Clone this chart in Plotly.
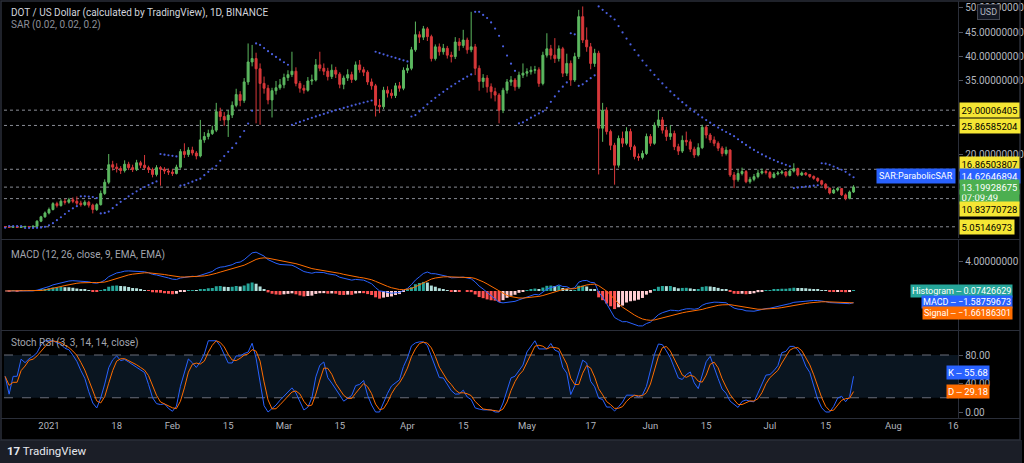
import numpy as np
import pandas as pd
import plotly.graph_objects as go

# ---------------- data ----------------
start_date = "2020-12-21"
first_open = 5.05
closes = [5.00,4.95,5.08,4.92,5.02,5.12,5.00,5.15,6.20,7.10,7.90,
          8.60,9.80,9.40,10.30,10.10,10.60,10.30,9.90,9.60,10.10,9.50,8.60,9.60,11.90,14.20,17.80,17.30,17.00,16.60,17.90,17.20,16.80,18.20,17.70,17.20,16.80,15.80,17.20,16.90,16.50,16.30,
          16.00,17.30,20.50,19.90,20.80,20.20,19.60,22.90,23.60,24.20,24.90,28.70,27.70,27.00,28.00,30.00,32.20,31.00,34.80,38.90,39.60,37.50,34.50,33.50,31.10,33.00,33.60,34.20,
          35.70,36.30,37.00,34.50,33.50,33.10,35.00,35.20,38.30,37.60,37.00,35.90,37.20,36.40,34.30,35.60,36.30,35.30,38.30,37.30,36.80,34.80,34.00,30.00,29.70,33.10,32.50,32.00,34.00,33.50,
          37.20,37.60,41.40,44.50,44.00,45.70,44.10,39.60,42.00,41.00,41.70,40.30,40.00,43.00,42.30,43.40,41.40,42.00,37.60,34.90,35.60,33.80,32.80,32.10,29.00,33.10,34.80,35.20,33.80,36.20,36.60,
          36.90,37.20,37.30,34.50,40.30,41.60,40.30,39.60,41.60,36.60,38.60,35.20,40.00,48.20,43.40,42.00,38.60,40.70,25.30,29.00,24.60,21.80,17.70,23.20,22.20,24.60,21.50,19.50,19.30,20.10,23.60,
          22.20,25.90,27.00,24.90,23.60,24.20,21.50,20.60,22.80,22.50,21.00,19.80,21.30,25.50,23.90,22.90,22.20,21.20,20.10,20.80,15.70,14.70,16.00,16.40,14.30,14.80,15.35,16.10,16.40,16.20,
          15.20,15.90,16.10,16.30,15.60,16.50,17.00,15.70,16.10,15.80,15.40,15.00,14.50,13.80,13.00,12.00,12.60,12.90,11.60,10.90,12.20,13.20]
highs = [5.20,5.12,5.20,5.15,5.15,5.25,5.20,5.35,6.40,7.30,8.20,
         9.00,10.10,10.20,10.70,10.80,11.00,11.10,11.30,10.40,10.50,10.40,9.80,9.90,12.50,14.80,20.00,18.60,18.10,17.50,18.70,18.40,17.80,18.80,18.60,19.80,17.60,17.20,17.70,17.50,17.30,17.00,
         16.90,17.80,21.00,22.20,21.40,21.50,20.60,27.00,24.50,25.00,25.80,30.50,29.50,28.60,29.00,30.80,33.40,32.90,35.60,42.70,42.40,40.80,38.60,35.90,34.20,33.60,35.00,35.40,
         36.50,37.20,41.00,37.80,35.00,34.20,35.80,36.30,39.50,41.00,38.60,37.70,38.40,37.90,36.80,36.10,37.40,36.90,39.00,39.30,37.90,37.20,35.50,34.40,31.30,33.80,33.90,33.30,34.60,34.80,
         37.80,38.40,42.00,47.20,45.20,46.30,46.10,44.50,42.50,42.70,42.60,42.20,41.00,44.00,43.80,45.50,43.90,49.20,42.60,38.20,36.40,36.20,34.50,33.60,32.50,33.60,35.40,36.00,35.60,36.90,38.60,
         37.60,38.00,38.10,37.80,41.00,44.80,42.40,43.80,42.30,42.00,40.60,39.20,40.80,49.60,50.30,46.00,42.80,41.60,41.20,30.50,29.60,25.00,22.30,23.80,24.60,25.50,25.20,21.90,20.10,20.70,24.20,
         24.10,26.50,29.00,27.60,25.60,25.90,24.80,22.10,23.80,24.60,23.00,21.50,22.20,26.00,25.90,24.30,23.60,22.60,21.60,21.50,21.00,16.30,16.80,17.20,16.70,15.30,15.90,16.80,17.00,16.80,
         16.50,16.30,16.50,16.70,16.50,16.90,18.10,17.20,16.40,16.30,15.90,15.60,15.20,14.70,14.00,13.10,12.90,13.20,13.00,11.90,12.50,13.60]
lows = [4.85,4.80,4.85,4.80,4.85,4.95,4.88,4.90,5.05,6.00,6.90,
        7.60,8.40,9.00,9.20,9.60,9.80,9.90,9.50,9.20,9.30,9.00,7.80,8.30,9.40,11.60,13.80,16.60,16.20,15.90,16.20,16.70,16.30,16.50,17.10,16.80,16.10,15.20,15.40,13.50,15.90,15.70,
        15.50,15.80,17.00,19.20,19.40,19.70,18.90,19.30,22.30,23.00,23.90,24.50,26.80,25.80,23.50,27.40,29.60,29.80,30.50,34.20,38.00,26.30,26.00,32.40,30.20,27.50,32.20,33.20,
        33.50,35.00,35.80,33.90,32.60,32.40,32.80,34.20,34.90,37.00,36.20,35.10,35.40,35.60,33.50,33.30,35.00,34.60,35.00,36.70,36.00,34.20,33.20,27.70,28.40,29.20,31.60,31.40,31.50,32.80,
        33.10,36.60,37.20,41.00,42.80,43.40,43.20,39.00,39.20,40.20,40.40,39.60,38.80,39.50,41.20,41.80,40.60,40.90,36.20,33.00,33.60,32.60,31.40,30.80,26.30,28.40,32.40,34.00,33.00,33.40,35.60,
        35.90,36.30,36.50,33.80,34.10,39.80,39.40,38.70,39.00,35.80,36.00,34.00,34.80,39.50,42.80,41.00,37.40,37.90,15.80,22.50,24.00,20.80,13.70,17.20,21.40,21.80,20.80,18.90,18.60,18.90,19.80,
        21.60,21.90,25.40,24.20,22.70,22.90,20.80,19.80,20.20,21.70,20.40,19.20,19.50,21.00,23.20,22.30,21.60,20.60,19.50,19.70,15.30,13.00,14.30,15.60,14.00,13.90,14.40,15.00,15.80,15.80,
        14.90,15.00,15.60,15.80,15.20,15.40,16.20,15.40,15.50,15.50,15.10,14.70,14.20,13.50,12.70,11.70,11.80,12.30,11.40,10.50,10.70,12.00]

level_values = [29.00006405, 25.86585204, 16.86503807, 13.19928675, 10.83770728, 5.05146973]
level_texts = ["29.00006405", "25.86585204", "16.86503807", "10.83770728", "5.05146973"]
sar_label = "14.62646894"
last_price_texts = ["13.19928675", "07:09:49"]
macd_texts = ["Histogram ‒ 0.07426629", "MACD ‒ −1.58759673", "Signal ‒ −1.66186301"]
stoch_texts = ["K ‒ 55.68", "D ‒ 29.18"]
price_ticks = [20, 35, 40, 45, 50]
macd_ticks = [4]
stoch_ticks = [0, 40, 80]
tick_dates = ["2021-01-01", "2021-01-18", "2021-02-01", "2021-02-15", "2021-03-01", "2021-03-15",
              "2021-04-01", "2021-04-15", "2021-05-01", "2021-05-17", "2021-06-01", "2021-06-15",
              "2021-07-01", "2021-07-15", "2021-08-01", "2021-08-16"]
tick_labels = ["2021", "18", "Feb", "15", "Mar", "15", "Apr", "15", "May", "17", "Jun", "15",
               "Jul", "15", "Aug", "16"]

dates = pd.date_range(start_date, periods=len(closes), freq="D")
opens = [first_open] + closes[:-1]

# ---------------- indicators (as the chart computes them) ----------------
def parabolic_sar(h, l, start=0.02, inc=0.02, mx=0.2):
    n = len(h)
    out = [np.nan] * n
    up = True
    af = start
    ep = h[0]
    cur = l[0]
    out[0] = cur
    for i in range(1, n):
        cur = cur + af * (ep - cur)
        if up:
            cur = min(cur, l[i - 1], l[i - 2] if i >= 2 else l[i - 1])
            if l[i] < cur:
                up = False
                cur = ep
                ep = l[i]
                af = start
            elif h[i] > ep:
                ep = h[i]
                af = min(af + inc, mx)
        else:
            cur = max(cur, h[i - 1], h[i - 2] if i >= 2 else h[i - 1])
            if h[i] > cur:
                up = True
                cur = ep
                ep = h[i]
                af = start
            elif l[i] < ep:
                ep = l[i]
                af = min(af + inc, mx)
        out[i] = cur
    return out

sar = parabolic_sar(highs, lows)
c = pd.Series(closes)
macd = c.ewm(span=12, adjust=False).mean() - c.ewm(span=26, adjust=False).mean()
signal = macd.ewm(span=9, adjust=False).mean()
hist = macd - signal
hist_colors = []
for i, v in enumerate(hist):
    pv = hist.iloc[i - 1] if i > 0 else 0
    if v >= 0:
        hist_colors.append("#26a69a" if v >= pv else "#b2dfdb")
    else:
        hist_colors.append("#ff5252" if v <= pv else "#ffcdd2")

delta = c.diff().fillna(0)
gain = delta.clip(lower=0).ewm(alpha=1 / 14, adjust=False).mean()
loss = (-delta.clip(upper=0)).ewm(alpha=1 / 14, adjust=False).mean()
rsi = 100 - 100 / (1 + gain / loss.replace(0, np.nan))
rsi = rsi.fillna(50)
lo = rsi.rolling(14, min_periods=1).min()
hi = rsi.rolling(14, min_periods=1).max()
stoch = (100 * (rsi - lo) / (hi - lo).replace(0, np.nan)).fillna(50)
k_line = stoch.rolling(3, min_periods=1).mean()
d_line = k_line.rolling(3, min_periods=1).mean()

# ---------------- figure ----------------
W, H = 1024, 463
def py(px):
    return 1 - px / H
def pxx(px):
    return px / W

BG = "#000000"
AX = "#b2b5be"
SEP = "#2a2e39"
FONT = "Roboto, 'Open Sans', sans-serif"

fig = go.Figure()
fig.add_trace(go.Candlestick(
    x=dates, open=opens, high=highs, low=lows, close=closes,
    increasing=dict(line=dict(color="#5cb860", width=1), fillcolor="#5cb860"),
    decreasing=dict(line=dict(color="#d8383a", width=1), fillcolor="#d8383a"),
    whiskerwidth=0, xaxis="x", yaxis="y", showlegend=False))
fig.add_trace(go.Scatter(x=dates, y=sar, mode="markers",
                         marker=dict(size=2.2, color="#4a5fe0"),
                         xaxis="x", yaxis="y", showlegend=False))

fig.add_trace(go.Bar(x=dates, y=hist, marker=dict(color=hist_colors, line=dict(width=0)),
                     xaxis="x2", yaxis="y2", showlegend=False))
fig.add_trace(go.Scatter(x=dates, y=macd, mode="lines", line=dict(color="#2962ff", width=1),
                         xaxis="x2", yaxis="y2", showlegend=False))
fig.add_trace(go.Scatter(x=dates, y=signal, mode="lines", line=dict(color="#ff6d00", width=1),
                         xaxis="x2", yaxis="y2", showlegend=False))

fig.add_trace(go.Scatter(x=dates, y=k_line, mode="lines", line=dict(color="#2962ff", width=1),
                         xaxis="x3", yaxis="y3", showlegend=False))
fig.add_trace(go.Scatter(x=dates, y=d_line, mode="lines", line=dict(color="#ff6d00", width=1),
                         xaxis="x3", yaxis="y3", showlegend=False))

xr = ["2020-12-20 17:00", "2021-08-17 06:00"]
xdom = [pxx(4), pxx(960)]
xcommon = dict(type="date", range=xr, domain=xdom, showgrid=False, zeroline=False,
               showline=False, fixedrange=True)
ycommon = dict(side="right", showgrid=False, zeroline=False, showline=True,
               linecolor=SEP, ticks="outside", ticklen=4, tickcolor="#50535e",
               tickfont=dict(color=AX, size=10, family=FONT), fixedrange=True)

fig.update_layout(
    width=W, height=H, margin=dict(l=0, r=0, t=0, b=0),
    paper_bgcolor=BG, plot_bgcolor=BG, font=dict(family=FONT, color=AX),
    bargap=0.25, showlegend=False,
    xaxis=dict(**xcommon, anchor="y", showticklabels=False, rangeslider=dict(visible=False)),
    xaxis2=dict(**xcommon, anchor="y2", showticklabels=False, matches="x"),
    xaxis3=dict(**xcommon, anchor="y3", matches="x", tickmode="array",
                tickvals=tick_dates, ticktext=tick_labels, ticks="",
                tickfont=dict(color=AX, size=9.5, family="'Liberation Sans Narrow', " + FONT)),
    yaxis=dict(**ycommon, anchor="x", domain=[py(238), py(1)], range=[2.75, 51.42],
               tickvals=price_ticks, tickformat=".8f"),
    yaxis2=dict(**ycommon, anchor="x2", domain=[py(330), py(240)], range=[-5.38, 7.03],
                tickvals=macd_ticks, tickformat=".8f"),
    yaxis3=dict(**ycommon, anchor="x3", domain=[py(418), py(331)], range=[-8.4, 113.7],
                tickvals=stoch_ticks, tickformat=".2f"),
)

shapes = []
# footer and frame
shapes.append(dict(type="rect", xref="paper", yref="paper", x0=0, x1=1, y0=0, y1=py(440),
                   fillcolor="#1b1e27", line=dict(width=0), layer="below"))
shapes.append(dict(type="rect", xref="paper", yref="paper", x0=pxx(1), x1=pxx(1022), y0=py(440), y1=py(1),
                   fillcolor="rgba(0,0,0,0)", line=dict(color=SEP, width=1.5)))
for yy in (239.5, 330.5, 418.5):
    shapes.append(dict(type="line", xref="paper", yref="paper", x0=pxx(1), x1=pxx(1022),
                       y0=py(yy), y1=py(yy), line=dict(color=SEP, width=1)))
# price levels
for v in level_values:
    shapes.append(dict(type="line", xref="x domain", yref="y", x0=0, x1=1, y0=v, y1=v,
                       line=dict(color="#8a8d96", width=1, dash="dot"), layer="below"))
# stoch band
shapes.append(dict(type="rect", xref="x3 domain", yref="y3", x0=0, x1=1, y0=20, y1=80,
                   fillcolor="#0a1520", line=dict(width=0), layer="below"))
for v in (20, 80):
    shapes.append(dict(type="line", xref="x3 domain", yref="y3", x0=0, x1=1, y0=v, y1=v,
                       line=dict(color="#6a6e7a", width=1, dash="dash"), layer="below"))
fig.update_layout(shapes=shapes)

ann = []
LBL = 9.5
def label(text, ypx, bg, fg="#000000", width=None):
    d = dict(text=text, xref="paper", yref="paper",
             x=pxx(961), y=py(ypx), xanchor="left", yanchor="middle", showarrow=False,
             bgcolor=bg, font=dict(color=fg, size=LBL, family=FONT),
             borderpad=1.5, align="left")
    if width:
        d["width"] = width
    ann.append(d)

# titles
ann.append(dict(text="DOT / US Dollar (calculated by TradingView), 1D, BINANCE", xref="paper", yref="paper",
                x=pxx(9), y=py(13), xanchor="left", yanchor="middle", showarrow=False,
                font=dict(color="#d1d4dc", size=10, family=FONT)))
ann.append(dict(text="SAR (0.02, 0.02, 0.2)", xref="paper", yref="paper",
                x=pxx(9), y=py(25), xanchor="left", yanchor="middle", showarrow=False,
                font=dict(color="#8c8f99", size=10, family=FONT)))
ann.append(dict(text="MACD (12, 26, close, 9, EMA, EMA)", xref="paper", yref="paper",
                x=pxx(9), y=py(255), xanchor="left", yanchor="middle", showarrow=False,
                font=dict(color="#a3a6af", size=10, family=FONT)))
ann.append(dict(text="Stoch RSI (3, 3, 14, 14, close)", xref="paper", yref="paper",
                x=pxx(9), y=py(343), xanchor="left", yanchor="middle", showarrow=False,
                font=dict(color="#a3a6af", size=10, family=FONT)))

# price labels
yellow = "#f5e634"
label(level_texts[0], 110, yellow)
label(level_texts[1], 126, yellow)
label(level_texts[2], 163.5, yellow)
label(sar_label, 176, "#2962ff", "#ffffff")
ann.append(dict(text="SAR:ParabolicSAR", xref="paper", yref="paper", x=pxx(958), y=py(176),
                xanchor="right", yanchor="middle", showarrow=False, bgcolor="#2962ff",
                font=dict(color="#ffffff", size=9, family=FONT), borderpad=2))
label(last_price_texts[1], 196.5, "#4caf50", "#ffffff", width=56)
label(last_price_texts[0], 187, "#4caf50", "#ffffff", width=56)
label(level_texts[3], 209.5, yellow)
label(level_texts[4], 227.5, yellow)

# USD box
ann.append(dict(text="USD", xref="paper", yref="paper", x=pxx(990), y=py(12.5), xanchor="center",
                yanchor="middle", showarrow=False, bgcolor="#131722", bordercolor="#434651",
                borderwidth=1, borderpad=2, font=dict(color="#b2b5be", size=9, family=FONT)))

# MACD labels
for t, yy, bg in zip(macd_texts, (291, 302, 313), ("#26a69a", "#2962ff", "#ff6d00")):
    ann.append(dict(text=t, xref="paper", yref="paper", x=pxx(1015), y=py(yy), xanchor="right",
                    yanchor="middle", showarrow=False, bgcolor=bg, borderpad=1,
                    font=dict(color="#ffffff", size=9, family=FONT)))
# Stoch labels
for t, yy, bg in zip(stoch_texts, (372, 391), ("#2962ff", "#ff6d00")):
    ann.append(dict(text=t, xref="paper", yref="paper", x=pxx(992), y=py(yy), xanchor="right",
                    yanchor="middle", showarrow=False, bgcolor=bg, borderpad=1,
                    font=dict(color="#ffffff", size=LBL, family=FONT)))

# footer logo
ann.append(dict(text="<b>17</b> TradingView", xref="paper", yref="paper", x=pxx(5), y=py(451),
                xanchor="left", yanchor="middle", showarrow=False,
                font=dict(color="#e6e8ee", size=11.5, family=FONT)))

fig.update_layout(annotations=ann)
fig.write_html("out.html", config={"displayModeBar": False})
